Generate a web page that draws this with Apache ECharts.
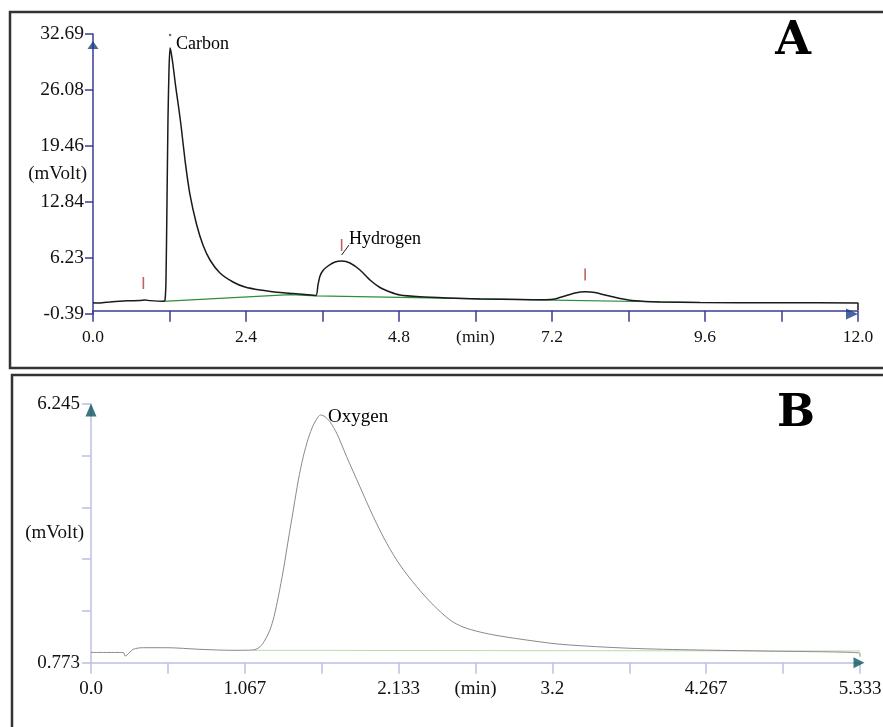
<!DOCTYPE html>
<html>
<head>
<meta charset="utf-8">
<title>Chromatograms</title>
<script src="https://cdn.jsdelivr.net/npm/echarts@6/dist/echarts.min.js"></script>
<style>
  html, body { margin: 0; padding: 0; background: #fff; }
  #chart { width: 883px; height: 727px; }
</style>
</head>
<body>
<div id="chart"></div>
<script>
var chartDom = document.getElementById('chart');
var myChart = echarts.init(chartDom);
var option;

// ---- panel A : signal trace (min, mVolt)
var timeA = [0, 0.11, 0.267, 0.533, 0.737, 0.816, 0.894, 1.098, 1.129, 1.145, 1.161, 1.176, 1.192, 1.208, 1.224, 1.255,
  1.294, 1.338, 1.38, 1.443, 1.522, 1.627, 1.725, 1.835, 1.992, 2.196, 2.384, 2.62, 2.933, 3.137, 3.325, 3.498,
  3.529, 3.561, 3.608, 3.686, 3.796, 3.906, 4.031, 4.188, 4.345, 4.502, 4.659, 4.816, 5.129, 5.553, 6.071, 6.698,
  7.09, 7.247, 7.404, 7.561, 7.718, 7.875, 8.031, 8.267, 8.502, 8.894, 9.522, 10.776, 12.0, 12.0];
var signalA = [0.95, 0.91, 1.03, 1.17, 1.2, 1.26, 1.19, 1.12, 1.26, 3.63, 13.08, 22.53, 28.44, 31.04, 30.57, 29.03,
  26.66, 24.3, 21.94, 17.8, 13.67, 10.12, 7.76, 5.99, 4.45, 3.39, 2.8, 2.45, 2.15, 2.03, 1.91, 1.8,
  3.04, 4.1, 4.75, 5.28, 5.75, 5.87, 5.64, 4.81, 3.63, 2.74, 2.21, 1.85, 1.64, 1.5, 1.38, 1.32,
  1.29, 1.38, 1.74, 2.09, 2.24, 2.15, 1.85, 1.44, 1.17, 1.03, 0.97, 0.93, 0.91, 0.08];
// integration baseline
var baseTimeA = [1.098, 3.09, 3.498, 7.216, 9.52];
var baseSignalA = [1.11, 1.91, 1.74, 1.24, 0.97];
// red peak markers
var markTimeA = [0.79, 3.9, 7.72];
var markSignalA = [3.27, 7.76, 4.28];
// peak names
var peakNamesA = ['Carbon', 'Hydrogen'];
var peakTimeA = [1.302, 4.016];
var peakSignalA = [31.42, 8.41];
var carbonDot = [1.21, 32.57];
var leaderTimeA = [3.9, 4.016];
var leaderSignalA = [6.58, 7.76];

var xStepA = 1.2;
var xLabelsA = ['0.0', '', '2.4', '', '4.8', '(min)', '7.2', '', '9.6', '', '12.0'];
var yMinA = -0.39, yMaxA = 32.69, yStepA = 6.616;
var yLabelsA = ['-0.39', '6.23', '12.84', '19.46', '26.08', '32.69'];

// ---- panel B
var timeB = [0, 0.224, 0.236, 0.293, 0.363, 0.525, 0.756, 0.985, 1.126, 1.172, 1.207, 1.241, 1.269, 1.299, 1.334,
  1.368, 1.403, 1.438, 1.472, 1.507, 1.542, 1.576, 1.593, 1.623, 1.657, 1.704, 1.773, 1.865, 1.958, 2.051, 2.143,
  2.259, 2.374, 2.49, 2.58, 2.698, 2.816, 3.044, 3.273, 3.738, 4.202, 4.66, 5.333, 5.333];
var signalB = [0.99, 0.99, 0.915, 1.056, 1.09, 1.09, 1.056, 1.035, 1.042, 1.111, 1.253, 1.465, 1.746, 2.169, 2.734,
  3.368, 4.003, 4.637, 5.13, 5.519, 5.8, 5.976, 6.012, 5.976, 5.87, 5.625, 5.13, 4.495, 3.861, 3.298, 2.839,
  2.38, 1.993, 1.676, 1.528, 1.422, 1.348, 1.243, 1.158, 1.078, 1.042, 1.02, 0.972, 0.9];
var baseTimeB = [1.123, 5.333];
var baseSignalB = [1.035, 1.02];
var peakNamesB = ['Oxygen'];
var peakTimeB = [1.644];
var peakSignalB = [5.976];

var xStepB = 0.5333;
var xLabelsB = ['0.0', '', '1.067', '', '2.133', '(min)', '3.2', '', '4.267', '', '5.333'];
var yMinB = 0.773, yMaxB = 6.245, yStepB = 1.0944;
var yLabelsB = ['0.773', '', '', '', '', '6.245'];

function zip(a, b) {
  var out = [];
  for (let i = 0; i < a.length; i++) {
    out.push([a[i], b[i]]);
  }
  return out;
}

var serif = 'Liberation Serif';

function makeX(idx, max, step, labels, color, fs, margin) {
  return {
    type: 'value', gridIndex: idx, min: 0, max: max, interval: step,
    axisLine: { lineStyle: { color: color, width: 1.5 } },
    axisTick: { show: true, length: 11, lineStyle: { color: color, width: 1.5 } },
    splitLine: { show: false },
    axisLabel: {
      margin: margin, color: '#111', fontFamily: serif, fontSize: fs,
      showMinLabel: true, showMaxLabel: true,
      formatter: function (v) { return labels[Math.round(v / step)] || ''; }
    }
  };
}

function makeY(idx, min, max, step, labels, color, fs, margin, tickLen, gap, pad) {
  return {
    type: 'value', gridIndex: idx, min: min, max: max, interval: step,
    name: '(mVolt)', nameLocation: 'middle', nameRotate: 0, nameGap: gap, nameMoveOverlap: false,
    nameTextStyle: { color: '#111', fontFamily: serif, fontSize: 19, padding: pad },
    axisLine: { lineStyle: { color: color, width: 1.5 } },
    axisTick: { show: true, length: tickLen, lineStyle: { color: color, width: 1.5 } },
    splitLine: { show: false },
    axisLabel: {
      margin: margin, color: '#111', fontFamily: serif, fontSize: fs,
      showMinLabel: true, showMaxLabel: true,
      formatter: function (v) { return labels[Math.round((v - min) / step)] || ''; }
    }
  };
}

function arrows(xi, yi, pts, rot, color, size, offset) {
  return {
    type: 'scatter', xAxisIndex: xi, yAxisIndex: yi, clip: false, silent: true,
    symbol: 'triangle', symbolSize: size, symbolRotate: rot, symbolOffset: offset,
    itemStyle: { color: color }, data: pts, z: 5
  };
}

var axisA = '#3c3c92';
var axisB = '#bcc0e6';
var arrowA = '#1c3f7f';
var arrowB = '#0c5560';

option = {
  backgroundColor: '#fff',
  animation: false,
  grid: [
    { left: 93, top: 34, width: 765, height: 280, outerBoundsMode: 'none' },
    { left: 91, top: 404, width: 769, height: 258.7, outerBoundsMode: 'none' }
  ],
  xAxis: [
    makeX(0, 12, xStepA, xLabelsA, axisA, 17.5, 14),
    makeX(1, 5.333, xStepB, xLabelsB, axisB, 19, 17)
  ],
  yAxis: [
    makeY(0, yMinA, yMaxA, yStepA, yLabelsA, axisA, 19.5, 9, 8, 6, 0),
    makeY(1, yMinB, yMaxB, yStepB, yLabelsB, axisB, 19, 11, 9, 7, [8, 0, 0, 0])
  ],
  graphic: [
    { type: 'rect', shape: { x: 10, y: 12, width: 900, height: 356 }, style: { fill: null, stroke: '#333', lineWidth: 2.5 }, z: 0 },
    { type: 'rect', shape: { x: 12, y: 375, width: 900, height: 400 }, style: { fill: null, stroke: '#333', lineWidth: 2.5 }, z: 0 },
    { type: 'text', x: 793, y: 42, style: { text: 'A', fontFamily: 'DejaVu Serif', fontWeight: 'bold', fontSize: 46, fill: '#000', align: 'center', verticalAlign: 'middle' } },
    { type: 'text', x: 796, y: 414, style: { text: 'B', fontFamily: 'DejaVu Serif', fontWeight: 'bold', fontSize: 45, fill: '#000', align: 'center', verticalAlign: 'middle' } }
  ],
  series: [
    {
      name: 'baseline A', type: 'line', xAxisIndex: 0, yAxisIndex: 0, showSymbol: false, silent: true,
      lineStyle: { color: '#2f8f3a', width: 1.2 }, data: zip(baseTimeA, baseSignalA)
    },
    {
      name: 'signal A', type: 'line', xAxisIndex: 0, yAxisIndex: 0, showSymbol: false, silent: true,
      smooth: 0.2, lineStyle: { color: '#1a1a1a', width: 1.5 }, data: zip(timeA, signalA)
    },
    {
      name: 'leader', type: 'line', xAxisIndex: 0, yAxisIndex: 0, showSymbol: false, silent: true,
      lineStyle: { color: '#1a1a1a', width: 1 }, data: zip(leaderTimeA, leaderSignalA)
    },
    {
      name: 'marks A', type: 'scatter', xAxisIndex: 0, yAxisIndex: 0, silent: true,
      symbol: 'rect', symbolSize: [1.6, 12], itemStyle: { color: '#b03a3a' }, data: zip(markTimeA, markSignalA)
    },
    {
      name: 'carbon dot', type: 'scatter', xAxisIndex: 0, yAxisIndex: 0, silent: true,
      symbolSize: 2.5, itemStyle: { color: '#444' }, data: [carbonDot]
    },
    {
      name: 'names A', type: 'scatter', xAxisIndex: 0, yAxisIndex: 0, silent: true, symbolSize: 0,
      label: {
        show: true, position: 'right', distance: 0, color: '#000', opacity: 1, fontFamily: serif, fontSize: 18,
        formatter: function (p) { return peakNamesA[p.dataIndex]; }
      },
      data: zip(peakTimeA, peakSignalA)
    },
    arrows(0, 0, [[12, yMinA]], -90, arrowA, [11, 12], [-6, 0]),
    arrows(0, 0, [[0, yMaxA]], 0, arrowA, [11, 8], [0, 11]),
    {
      name: 'baseline B', type: 'line', xAxisIndex: 1, yAxisIndex: 1, showSymbol: false, silent: true,
      lineStyle: { color: '#b9dcae', width: 1 }, data: zip(baseTimeB, baseSignalB)
    },
    {
      name: 'signal B', type: 'line', xAxisIndex: 1, yAxisIndex: 1, showSymbol: false, silent: true,
      smooth: 0.3, lineStyle: { color: '#8a8a8a', width: 1 }, data: zip(timeB, signalB)
    },
    {
      name: 'names B', type: 'scatter', xAxisIndex: 1, yAxisIndex: 1, silent: true, symbolSize: 0,
      label: {
        show: true, position: 'right', distance: 0, color: '#000', opacity: 1, fontFamily: serif, fontSize: 19,
        formatter: function (p) { return peakNamesB[p.dataIndex]; }
      },
      data: zip(peakTimeB, peakSignalB)
    },
    arrows(1, 1, [[5.333, yMinB]], -90, arrowB, [11, 11], [-1, 0]),
    arrows(1, 1, [[0, yMaxB]], 0, arrowB, [11, 13], [0, 6])
  ]
};

option && myChart.setOption(option);
</script>
</body>
</html>
